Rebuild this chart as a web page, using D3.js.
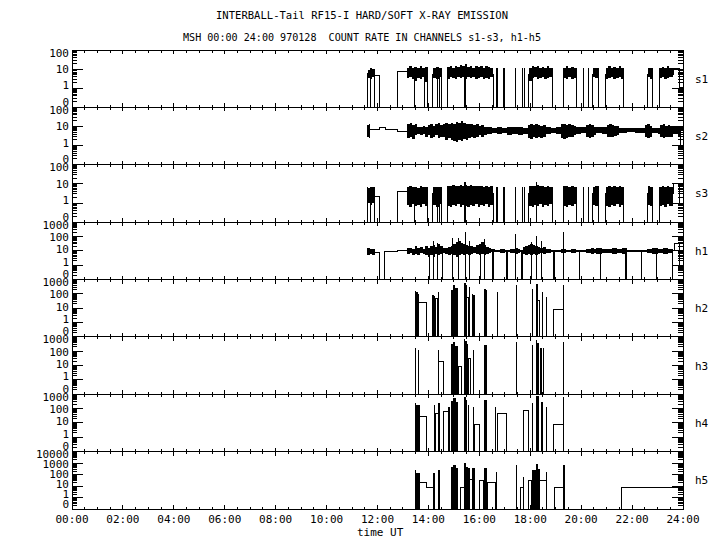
<!DOCTYPE html>
<html>
<head>
<meta charset="utf-8">
<script src="https://cdn.jsdelivr.net/npm/d3@7"></script>
<style>
body { margin: 0; background: #fff; }
text { font-family: "DejaVu Sans Mono", monospace; fill: #000; }
</style>
</head>
<body>
<svg id="chart" width="720" height="550"></svg>
<script>
// ---- data (hours UT, count rate; 0 = bottom of panel) ----
var channels = ["s1", "s2", "s3", "h1", "h2", "h3", "h4", "h5"];
var topDecade = [2, 2, 2, 3, 3, 3, 3, 4];
var hourLabels = ["00:00","02:00","04:00","06:00","08:00","10:00","12:00","14:00","16:00","18:00","20:00","22:00","24:00"];

// step traces [hour, value]
var s1Step = [[11.6,0],[11.9,4.7],[12.07,0],[12.78,7.5],[13.17,5],[13.98,0],[14.18,5],[14.53,0],[14.73,5],[16.55,0],[17.95,5],[18.89,0],[19.29,5],[19.83,0],[20.46,5],[20.7,0],[20.97,5],[21.68,0],[22.62,5],[22.82,0],[23.06,5],[23.61,11],[23.88,1.1],[24,1.1]];
var s2Step = [[11.6,7],[11.9,7],[12.07,8.5],[12.3,7],[12.78,5.3],[13.17,6],[23.9,1],[24,1]];
var s3Step = [[11.6,0],[11.9,2.3],[12.07,0],[12.78,3.8],[13.17,3],[13.98,0],[14.18,3],[14.53,0],[14.73,3],[16.55,0],[17.95,3],[18.89,0],[19.29,3],[19.83,0],[20.46,3],[20.7,0],[20.97,3],[21.68,0],[22.62,3],[22.82,0],[23.06,3],[23.61,10],[23.88,1],[24,1]];
var h1Step = [[11.6,10],[11.9,8],[12.06,0],[12.27,8.5],[12.78,11],[13.17,10],[23.61,10],[23.65,35],[23.88,0.7],[24,0.7]];
var h2Step = [[13.64,25],[13.93,0],[14.26,47],[14.36,0],[15.5,60],[15.58,0],[18.3,36],[18.38,0],[18.93,8],[19.3,0]];
var h3Step = [[14.43,18],[14.58,0],[15.17,8],[15.3,0],[15.57,31],[15.66,0]];
var h4Step = [[13.67,27],[13.93,0],[14.26,46],[14.39,0],[14.58,60],[14.78,0],[15.8,8],[16.0,0],[16.71,46],[17.07,0],[17.75,79],[17.92,0],[18.93,8],[19.3,0]];
var h5Step = [[13.67,19],[13.93,7.7],[14.19,0],[15.26,7.7],[15.4,0],[15.63,38],[15.8,0],[16.0,33],[16.18,0],[16.31,22],[16.65,0],[17.6,7.7],[17.75,0],[17.92,33],[18.05,0],[18.38,33],[18.62,0],[18.94,7.7],[19.32,0],[21.59,7.7],[24,7.7]];

// envelope of the dense, fluctuating parts [hour, low, high]; 0,0 ends a block
var s1Env = [[11.63,3.5,9],[11.7,3,12],[11.8,4,10],[11.9,0,0],
  [13.17,3.5,12],[13.25,4,14],[13.35,3,12],[13.45,2.5,13],[13.55,3.5,11],[13.65,3,14],[13.75,4,12],[13.85,2,13],[13.98,0,0],
  [14.18,3.5,11],[14.28,3,13],[14.4,4,12],[14.53,0,0],
  [14.73,3,13],[14.83,4,15],[14.93,3.5,12],[15.03,3,14],[15.13,4,13],[15.23,3.5,16],[15.33,4,14],[15.43,3,18],[15.53,4,13],[15.63,3.5,15],[15.73,4,12],[15.83,3,14],[15.93,3.5,13],[16.03,4,15],[16.13,3,12],[16.23,3.5,14],[16.33,3,13],[16.43,4,12],[16.55,0,0],
  [17.95,2.5,12],[18.05,3.5,14],[18.15,4,13],[18.25,3,15],[18.35,3.5,12],[18.45,4,13],[18.55,3,12],[18.65,3.5,14],[18.75,4,12],[18.89,0,0],
  [19.29,3.5,12],[19.4,3,14],[19.5,4,12],[19.6,3,13],[19.7,3.5,12],[19.83,0,0],
  [20.46,4,11],[20.56,3.5,12],[20.7,0,0],
  [20.97,3,12],[21.07,3.5,14],[21.17,4,12],[21.27,3,13],[21.37,3.5,12],[21.47,4,14],[21.57,3,12],[21.68,0,0],
  [22.62,4,12],[22.72,3,11],[22.82,0,0],
  [23.06,3.5,12],[23.16,4,13],[23.26,3,12],[23.36,3.5,14],[23.46,4,12],[23.61,0,0]];
var s2Env = [[11.6,3,12],[11.65,2.5,13],[11.72,0,0],
  [13.17,2.5,13],[13.27,3,15],[13.37,2.2,12],[13.47,3.5,14],[13.57,4,10],[13.67,3.5,9],[13.77,4,11],[13.87,3,10],[13.97,3.5,12],[14.07,2.5,13],[14.17,3,11],[14.27,3.5,13],[14.37,2.5,15],[14.47,3,12],[14.57,2.8,14],[14.67,2,15],[14.77,2.5,13],[14.87,2,16],[14.97,1.8,14],[15.07,1.6,18],[15.17,2,15],[15.27,1.8,20],[15.37,2.2,16],[15.47,2,14],[15.57,2.5,13],[15.67,3,14],[15.77,2.5,12],[15.87,3,13],[15.97,3.5,11],[16.07,3,12],[16.17,3.5,10],[16.3,4,9],[16.5,4.5,8.5],[16.7,4,9],[16.9,4.5,8],[17.1,3.5,10],[17.3,4,9],[17.5,3.5,9],[17.7,4,8.5],[17.9,2.5,12],[18.0,2.2,13],[18.1,2.8,12],[18.2,2.5,14],[18.3,3,12],[18.4,2.5,11],[18.5,3,12],[18.6,4,9],[18.8,4.5,8.5],[19.0,4,9],[19.2,2.5,13],[19.3,2.2,14],[19.4,2.5,12],[19.5,2.8,13],[19.6,3,12],[19.7,3.5,11],[19.8,4,10],[20.0,4.5,9],[20.2,3,12],[20.3,2.5,13],[20.4,3,12],[20.5,3.5,10],[20.6,4.5,9],[20.8,4,9],[21.0,3,12],[21.1,2.8,13],[21.2,3,12],[21.3,3.2,11],[21.4,3.5,11],[21.5,4.5,8.5],[21.8,5,8],[22.1,4.5,8],[22.4,4.5,8.5],[22.5,3,12],[22.6,2.5,13],[22.7,3,11],[22.8,4.5,8],[23.0,4,8.5],[23.1,3,12],[23.2,2.5,13],[23.3,3,11],[23.4,2.8,12],[23.5,3,11],[23.6,4,9],[23.8,3,11],[23.92,0,0]];
var s3Env = [[11.63,1,6],[11.7,0.8,7],[11.8,1,6.5],[11.9,0,0],
  [13.17,0.8,7],[13.25,0.6,8],[13.35,0.9,6.5],[13.45,0.7,7],[13.55,0.8,6],[13.65,0.6,7.5],[13.75,0.9,7],[13.85,0.7,6.5],[13.98,0,0],
  [14.18,0.8,7],[14.28,0.6,6.5],[14.4,0.9,7],[14.53,0,0],
  [14.73,0.7,8],[14.83,0.6,7.5],[14.93,0.8,8.5],[15.03,0.7,7.5],[15.13,0.9,8],[15.23,0.6,9],[15.33,0.8,8],[15.43,0.7,9],[15.53,0.6,8],[15.63,0.8,8.5],[15.73,0.7,7.5],[15.83,0.9,8],[15.93,0.6,7.5],[16.03,0.8,8],[16.13,0.7,7],[16.23,0.9,7.5],[16.33,0.6,7],[16.43,0.8,7.5],[16.55,0,0],
  [17.95,0.7,7.5],[18.05,0.6,8],[18.15,0.8,7.5],[18.25,0.7,9],[18.35,0.9,7.5],[18.45,0.6,8],[18.55,0.8,7],[18.65,0.7,7.5],[18.75,0.9,7],[18.89,0,0],
  [19.29,0.7,7.5],[19.4,0.6,8],[19.5,0.8,7],[19.6,0.7,7.5],[19.7,0.9,7],[19.83,0,0],
  [20.46,0.8,7],[20.56,0.7,7.5],[20.7,0,0],
  [20.97,0.7,7],[21.07,0.6,7.5],[21.17,0.8,7],[21.27,0.7,8],[21.37,0.9,7],[21.47,0.6,7.5],[21.57,0.8,7],[21.68,0,0],
  [22.62,0.8,7.5],[22.72,0.7,7],[22.82,0,0],
  [23.06,0.7,7],[23.16,0.8,7.5],[23.26,0.6,7],[23.36,0.9,7.5],[23.46,0.7,7],[23.61,0,0]];
var h1Env = [[11.6,5,16],[11.7,6,14],[11.8,5,13],[11.9,0,0],
  [13.17,6,15],[13.27,7,16],[13.37,5,14],[13.47,6,20],[13.57,5,16],[13.67,7,18],[13.77,6,14],[13.87,5,20],[13.97,4,16],[14.07,5,22],[14.17,4,25],[14.27,6,18],[14.37,5,30],[14.47,6,20],[14.57,7,15],[14.67,6,16],[14.77,5,18],[14.87,6,20],[14.97,5,30],[15.07,4,40],[15.17,5,50],[15.27,6,35],[15.37,5,30],[15.47,6,25],[15.57,5,22],[15.67,6,20],[15.77,7,18],[15.87,6,25],[15.97,5,30],[16.07,6,40],[16.17,5,25],[16.27,6,18],[16.37,7,15],[16.47,8,13],[16.6,8,12],[16.8,7,13],[17.0,8,12],[17.2,7,14],[17.4,6,16],[17.5,7,13],[17.6,8,12],[17.7,6,18],[17.8,5,22],[17.9,6,25],[18.0,5,30],[18.1,6,25],[18.2,5,20],[18.3,6,18],[18.4,7,15],[18.5,6,18],[18.6,7,14],[18.8,8,12],[19.0,8,12],[19.2,7,13],[19.3,7,14],[19.4,8,12],[19.6,7,14],[19.8,8,12],[20.0,8,11],[20.2,7,13],[20.4,6,15],[20.5,7,14],[20.6,6,16],[20.8,7,13],[21.0,7,14],[21.2,6,15],[21.4,7,14],[21.6,6,16],[21.8,8,12],[22.0,8,12],[22.2,8,11],[22.4,8,12],[22.6,7,14],[22.8,6,16],[23.0,7,14],[23.2,6,16],[23.4,7,14],[23.6,0,0]];
var h2Env = [[13.47,0,160],[13.52,0,130],[13.58,0,105],[13.64,0,0],[14.13,0,80],[14.2,0,70],[14.26,0,0],[14.36,0,135],[14.4,0,0],[14.87,0,200],[14.95,0,400],[15.05,0,250],[15.17,0,0],[15.4,0,575],[15.47,0,400],[15.5,0,0],[15.58,0,300],[15.63,0,0],[15.7,0,105],[15.76,0,80],[15.83,0,0],[16.19,0,235],[16.25,0,180],[16.31,0,0],[18.05,0,210],[18.12,0,0],[18.21,0,470],[18.3,0,0],[18.38,0,200],[18.4,0,0],[18.47,0,135],[18.51,0,0],[19.3,0,400],[19.34,0,0]];
var h3Env = [[13.47,0,155],[13.51,0,0],[14.89,0,300],[14.97,0,445],[15.05,0,250],[15.17,0,0],[15.4,0,760],[15.45,0,500],[15.52,0,345],[15.57,0,0],[16.19,0,263],[16.29,0,0],[18.22,0,590],[18.28,0,350],[18.34,0,0],[18.38,0,170],[18.45,0,0],[19.3,0,445],[19.34,0,0]];
var h4Env = [[13.47,0,230],[13.53,0,175],[13.67,0,0],[14.2,0,175],[14.26,0,0],[14.39,0,230],[14.46,0,0],[14.78,0,133],[14.85,0,0],[14.89,0,350],[14.97,0,510],[15.08,0,300],[15.17,0,0],[15.41,0,665],[15.47,0,400],[15.53,0,0],[15.74,0,133],[15.8,0,0],[16.19,0,390],[16.29,0,0],[18.22,0,740],[18.34,0,0],[18.41,0,300],[18.49,0,0],[19.3,0,600],[19.34,0,0]];
var h5Env = [[13.47,0,245],[13.53,0,126],[13.67,0,0],[14.19,0,126],[14.26,0,0],[14.39,0,245],[14.46,0,0],[14.89,0,450],[14.97,0,670],[15.08,0,345],[15.17,0,0],[15.41,0,940],[15.47,0,500],[15.56,0,345],[15.63,0,0],[15.7,0,345],[15.83,0,0],[16.18,0,345],[16.31,0,0],[18.05,0,245],[18.22,0,820],[18.3,0,300],[18.38,0,0],[19.3,0,670],[19.36,0,0]];

// single vertical lines from zero [hour, value, width]
var s1Line = [[11.61,6,1],[11.72,10,1],[13.47,8,1],[13.86,8,1],[14.35,10,1],[14.43,10,1],[15.44,8,2],[16.71,11,2],[16.97,11,2],[17.44,11,1],[17.7,11,1],[17.79,11,1],[18.1,8,1],[20.08,11,1],[20.28,11,1]];
var s2Line = [];
var s3Line = [[11.61,7,1],[11.72,7,1],[13.47,7,1],[14.35,7,1],[14.43,7,1],[15.44,13,2],[16.71,7,2],[16.97,7,2],[17.44,7,1],[17.7,7,1],[17.79,7,1],[18.25,13,1],[20.08,7,1],[20.28,7,1]];
var h1Line = [[14.19,47,1],[14.35,35,1],[14.95,80,1],[15.2,80,1],[15.44,200,1],[15.63,50,1],[16.22,70,1],[17.43,140,1],[18.05,40,1],[18.25,100,1],[18.45,50,1],[19.3,200,1],[14.04,10,1],[14.56,10,1],[16.05,10,1],[16.55,10,2],[17.07,10,2],[17.66,10,2],[18.93,10,2],[19.95,10,1],[20.74,10,1],[21.75,10,2],[22.37,10,1],[22.94,10,1],[23.59,10,1]];
var h2Line = [[16.71,135,1],[17.47,400,1],[18.62,60,1]];
var h3Line = [[13.6,117,1],[14.39,117,1],[15.79,117,1],[17.47,445,1],[18.08,263,1],[18.51,170,1]];
var h4Line = [[15.57,175,1],[16.65,133,1],[17.75,79,1],[17.92,79,1],[18.08,230,1],[18.62,133,1]];
var h5Line = [[13.5,245,1],[14.39,200,1],[16.68,175,1],[17.47,670,1],[17.75,64,1],[18.62,175,1]];

var steps = [s1Step, s2Step, s3Step, h1Step, h2Step, h3Step, h4Step, h5Step];
var envs = [s1Env, s2Env, s3Env, h1Env, h2Env, h3Env, h4Env, h5Env];
var lines = [s1Line, s2Line, s3Line, h1Line, h2Line, h3Line, h4Line, h5Line];

// ---- layout ----
var plotLeft = 72, plotRight = 683, plotTop = 50, plotBottom = 509;
var ph = (plotBottom - plotTop) / channels.length;

var svg = d3.select("#chart");
svg.append("rect").attr("width", 720).attr("height", 550).attr("fill", "#fff");

svg.append("text").attr("x", 362).attr("y", 19).attr("text-anchor", "middle")
  .attr("font-size", "10.5px").attr("textLength", 292).attr("lengthAdjust", "spacingAndGlyphs")
  .text("INTERBALL-Tail RF15-I HARD/SOFT X-RAY EMISSION");
svg.append("text").attr("x", 362).attr("y", 41).attr("text-anchor", "middle")
  .attr("font-size", "10.5px").attr("textLength", 358).attr("lengthAdjust", "spacingAndGlyphs")
  .attr("xml:space", "preserve")
  .text("MSH 00:00 24:00 970128  COUNT RATE IN CHANNELS s1-s3, h1-h5");

var x = d3.scaleLinear().domain([0, 24]).range([plotLeft, plotRight]);

channels.forEach(function(name, i) {
  var y0 = plotTop + i * ph, y1 = y0 + ph;
  var y = d3.scaleLog().domain([0.1, Math.pow(10, topDecade[i])]).range([y1, y0]);
  var yv = function(v) { return v <= 0 ? y1 : y(Math.max(v, 0.1)); };
  var g = svg.append("g");

  // dense blocks
  var area = d3.area().x(function(d) { return x(d[0]); })
    .y0(function(d) { return yv(d[1]); }).y1(function(d) { return yv(d[2]); })
    .curve(d3.curveStepAfter);
  g.append("path").datum(envs[i]).attr("d", area)
    .attr("fill", "#000").attr("shape-rendering", "crispEdges");
  // single lines
  g.selectAll(null).data(lines[i]).enter().append("line")
    .attr("x1", function(d) { return x(d[0]); }).attr("x2", function(d) { return x(d[0]); })
    .attr("y1", y1).attr("y2", function(d) { return yv(d[1]); })
    .attr("stroke", "#000").attr("stroke-width", function(d) { return d[2]; })
    .attr("shape-rendering", "crispEdges");
  // step trace
  var line = d3.line().x(function(d) { return x(d[0]); }).y(function(d) { return yv(d[1]); })
    .curve(d3.curveStepAfter);
  g.append("path").datum(steps[i]).attr("d", line)
    .attr("fill", "none").attr("stroke", "#000").attr("stroke-width", 1)
    .attr("shape-rendering", "crispEdges");

  // frame
  g.append("rect").attr("x", plotLeft).attr("y", y0).attr("width", plotRight - plotLeft).attr("height", ph)
    .attr("fill", "none").attr("stroke", "#000").attr("shape-rendering", "crispEdges");

  // y ticks, both sides
  var majors = d3.range(-1, topDecade[i] + 1).map(function(e) { return Math.pow(10, e); });
  var minors = [];
  majors.slice(0, -1).forEach(function(m) { for (var k = 2; k <= 9; k++) minors.push(m * k); });
  [[plotLeft, 1], [plotRight, -1]].forEach(function(side) {
    g.selectAll(null).data(majors).enter().append("line")
      .attr("x1", side[0]).attr("x2", side[0] + side[1] * 11)
      .attr("y1", function(d) { return y(d); }).attr("y2", function(d) { return y(d); })
      .attr("stroke", "#000").attr("shape-rendering", "crispEdges");
    g.selectAll(null).data(minors).enter().append("line")
      .attr("x1", side[0]).attr("x2", side[0] + side[1] * 5)
      .attr("y1", function(d) { return y(d); }).attr("y2", function(d) { return y(d); })
      .attr("stroke", "#000").attr("shape-rendering", "crispEdges");
  });
  g.selectAll(null).data(majors).enter().append("text")
    .attr("x", 69).attr("text-anchor", "end").attr("font-size", "11px")
    .attr("y", function(d) { return y0 + 2.5 + (y(d) - y0) * (ph - 8) / ph + 4; })
    .text(function(d) { return d < 1 ? "0" : String(d); });

  // x ticks top and bottom of each panel
  var halfHours = d3.range(0, 49).map(function(k) { return k / 2; });
  g.selectAll(null).data(halfHours).enter().append("line")
    .attr("x1", function(d) { return x(d); }).attr("x2", function(d) { return x(d); })
    .attr("y1", y0).attr("y2", function(d) { return y0 + (d % 2 === 0 ? 4 : 2.5); })
    .attr("stroke", "#000").attr("shape-rendering", "crispEdges");
  g.selectAll(null).data(halfHours).enter().append("line")
    .attr("x1", function(d) { return x(d); }).attr("x2", function(d) { return x(d); })
    .attr("y1", y1).attr("y2", function(d) { return y1 - (d % 2 === 0 ? 4 : 2.5); })
    .attr("stroke", "#000").attr("shape-rendering", "crispEdges");

  g.append("text").attr("x", 695).attr("y", y0 + ph / 2 + 4).attr("font-size", "11px").text(name);
});

svg.selectAll(null).data(hourLabels).enter().append("text")
  .attr("x", function(d, i) { return x(i * 2); }).attr("y", 523)
  .attr("text-anchor", "middle").attr("font-size", "11px")
  .text(function(d) { return d; });
svg.append("text").attr("x", 357).attr("y", 536).attr("font-size", "11px").text("time UT");
</script>
</body>
</html>
